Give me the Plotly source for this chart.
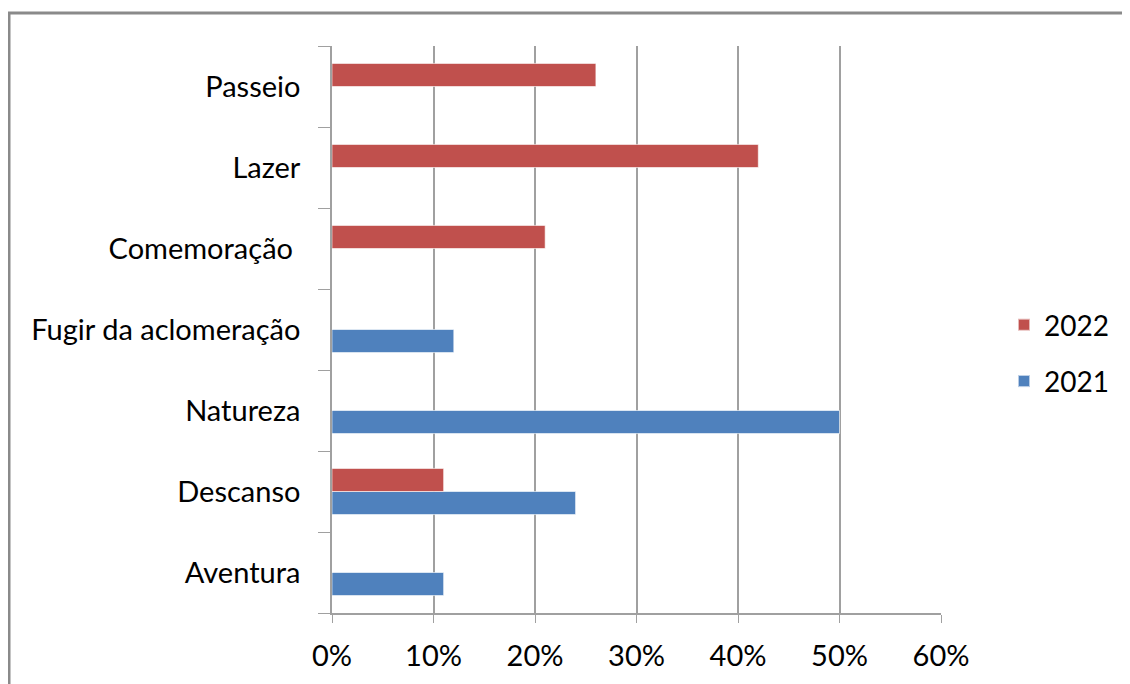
import plotly.graph_objects as go

categories = ["Aventura", "Descanso", "Natureza", "Fugir da aclomeração",
              "Comemoração ", "Lazer", "Passeio"]
values_2021 = [0.11, 0.24, 0.50, 0.12, 0, 0, 0]
values_2022 = [0, 0.11, 0, 0, 0.21, 0.42, 0.26]
x_ticks = [0, 0.1, 0.2, 0.3, 0.4, 0.5, 0.6]
x_tick_labels = ["0%", "10%", "20%", "30%", "40%", "50%", "60%"]

FONT = "Lato, 'Open Sans', sans-serif"

L, T, R, B = 324, 38, 197, 79
PW, PH = 1130 - L - R, 684 - T - B

fig = go.Figure()
fig.add_trace(go.Bar(y=categories, x=values_2021, orientation="h", name="2021",
                     legendgroup="b", legendrank=2,
                     marker=dict(color="#4F81BD", line=dict(color="rgba(255,255,255,0.6)", width=1))))
fig.add_trace(go.Bar(y=categories, x=values_2022, orientation="h", name="2022",
                     legendgroup="a", legendrank=1,
                     marker=dict(color="#C0504D", line=dict(color="rgba(255,255,255,0.6)", width=1))))

fig.update_layout(
    width=1130, height=684,
    margin=dict(l=L, r=R, t=T, b=B),
    paper_bgcolor="white", plot_bgcolor="white",
    barmode="group", bargap=0.43, bargroupgap=0,
    font=dict(family=FONT, color="#000000"),
    showlegend=True,
    legend=dict(x=(1004 - 8 - L) / PW, y=(605 - 345) / PH, xanchor="left", yanchor="middle",
                traceorder="grouped", font=dict(size=28, family=FONT),
                itemsizing="constant", tracegroupgap=17, itemwidth=30),
    xaxis=dict(range=[0, 0.6], tickvals=x_ticks, ticktext=x_tick_labels,
               showgrid=True, gridcolor="#A0A0A0", gridwidth=1.5,
               showline=True, linecolor="#A0A0A0", linewidth=1.5,
               ticks="outside", ticklen=8, tickcolor="#A0A0A0",
               ticklabelstandoff=8,
               tickfont=dict(size=29, family=FONT), zeroline=False,
               fixedrange=True),
    yaxis=dict(showgrid=False, showline=True, linecolor="#A0A0A0", linewidth=1.5,
               ticks="outside", ticklen=12, tickcolor="#A0A0A0",
               tickson="boundaries", ticklabelstandoff=24,
               tickfont=dict(size=29, family=FONT)),
    shapes=[dict(type="rect", xref="paper", yref="paper",
                 x0=(1 - L) / PW, x1=1.5, y0=-0.3, y1=(605 - 5) / PH,
                 line=dict(color="#8A8A8A", width=3), fillcolor="rgba(0,0,0,0)",
                 layer="below")],
)

fig.write_html("out.html")
